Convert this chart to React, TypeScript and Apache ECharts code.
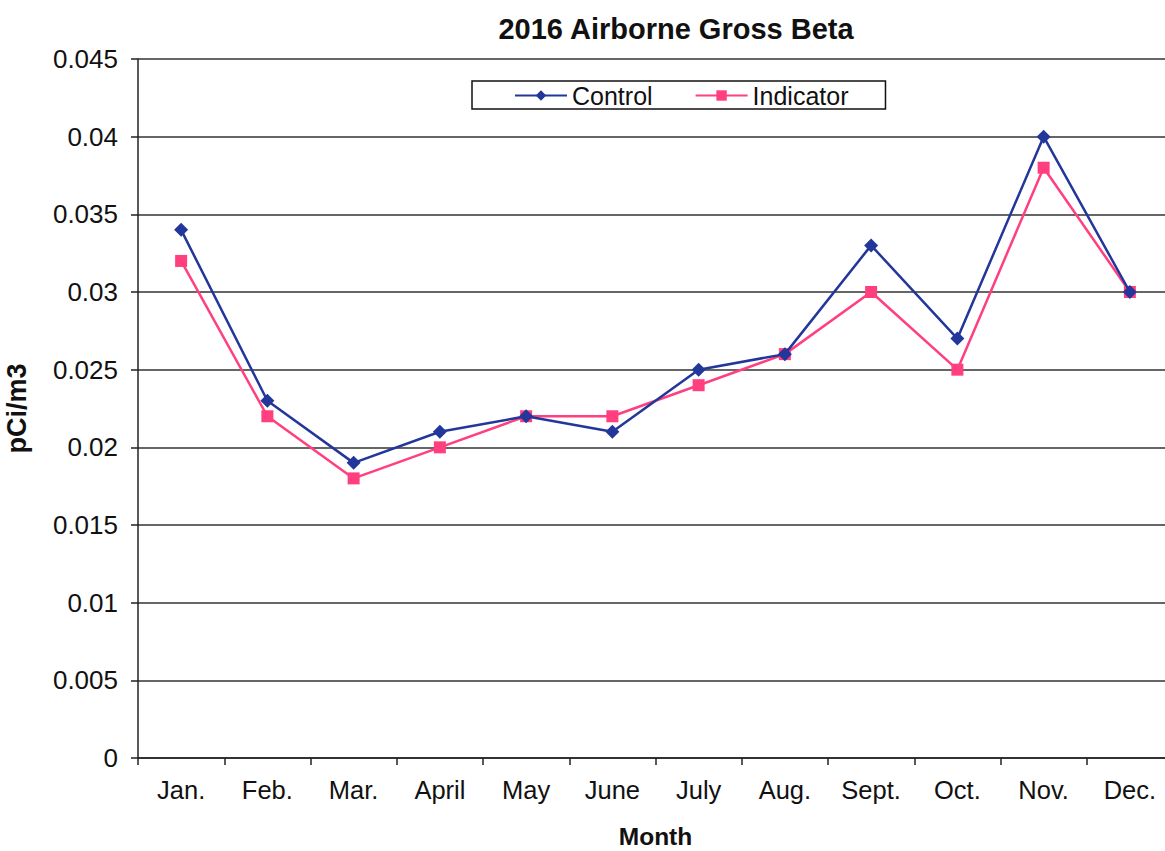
import React, { useEffect, useRef } from "react";
import * as echarts from "echarts";

const months = ["Jan.", "Feb.", "Mar.", "April", "May", "June", "July", "Aug.", "Sept.", "Oct.", "Nov.", "Dec."];
const control = [0.034, 0.023, 0.019, 0.021, 0.022, 0.021, 0.025, 0.026, 0.033, 0.027, 0.04, 0.03];
const indicator = [0.032, 0.022, 0.018, 0.02, 0.022, 0.022, 0.024, 0.026, 0.03, 0.025, 0.038, 0.03];
const yTicks = ["0", "0.005", "0.01", "0.015", "0.02", "0.025", "0.03", "0.035", "0.04", "0.045"];

const FONT = "Liberation Sans, Arial, sans-serif";

export default function App() {
  const ref = useRef<HTMLDivElement>(null);
  useEffect(() => {
    if (!ref.current) return;
    const chart = echarts.init(ref.current, null, { renderer: "svg" });
    chart.setOption({
      animation: false,
      backgroundColor: "#ffffff",
      textStyle: { fontFamily: FONT },
      title: {
        text: "2016 Airborne Gross Beta",
        left: 671,
        textAlign: "center",
        top: 9,
        textStyle: { fontSize: 29, fontWeight: "bold", color: "#111", fontFamily: FONT },
      },
      legend: {
        left: 472,
        top: 81,
        padding: [2, 37, 1, 42],
        itemGap: 42,
        itemWidth: 52,
        itemHeight: 13,
        borderColor: "#111",
        borderWidth: 1.5,
        borderRadius: 0,
        textStyle: { fontSize: 25, color: "#111", fontFamily: FONT },
        data: ["Control", "Indicator"],
      },
      grid: { left: 138, top: 59, bottom: 93, right: 0, containLabel: false, outerBoundsMode: "none" },
      xAxis: {
        type: "category",
        data: months,
        boundaryGap: true,
        name: "Month",
        nameLocation: "middle",
        nameGap: 66,
        nameTextStyle: { fontSize: 24.5, fontWeight: "bold", color: "#111", fontFamily: FONT },
        axisLine: { lineStyle: { color: "#222", width: 1.5 } },
        axisTick: { show: true, inside: false, length: 7, lineStyle: { color: "#222", width: 1.5 } },
        axisLabel: { fontSize: 25.5, color: "#111", margin: 19, fontFamily: FONT },
        splitLine: { show: false },
      },
      yAxis: {
        type: "value",
        min: 0,
        max: 0.045,
        interval: 0.005,
        name: "pCi/m3",
        nameLocation: "middle",
        nameGap: 108,
        nameRotate: 90,
        nameTextStyle: { fontSize: 27, fontWeight: "bold", color: "#111", fontFamily: FONT },
        axisLine: { show: true, lineStyle: { color: "#222", width: 1.5 } },
        axisTick: { show: true, inside: false, length: 7, lineStyle: { color: "#222", width: 1.5 } },
        axisLabel: {
          fontSize: 26,
          color: "#111",
          margin: 20,
          fontFamily: FONT,
          formatter: (v: number) => yTicks[Math.round(v / 0.005)] ?? String(v),
        },
        splitLine: { show: true, lineStyle: { color: "#333", width: 1.5 } },
      },
      series: [
        {
          name: "Control",
          type: "line",
          data: control,
          symbol: "diamond",
          symbolSize: 14,
          lineStyle: { color: "#23369a", width: 2.5 },
          itemStyle: { color: "#23369a" },
          z: 3,
        },
        {
          name: "Indicator",
          type: "line",
          data: indicator,
          symbol: "rect",
          symbolSize: 12,
          lineStyle: { color: "#ff3f7e", width: 2.5 },
          itemStyle: { color: "#ff3f7e" },
          z: 2,
        },
      ],
    });
    return () => chart.dispose();
  }, []);
  return (
    <div style={{ position: "fixed", left: 0, top: 0, width: 1165, height: 851, overflow: "hidden", background: "#fff" }}>
      <div ref={ref} style={{ width: 1173, height: 851 }} />
    </div>
  );
}
